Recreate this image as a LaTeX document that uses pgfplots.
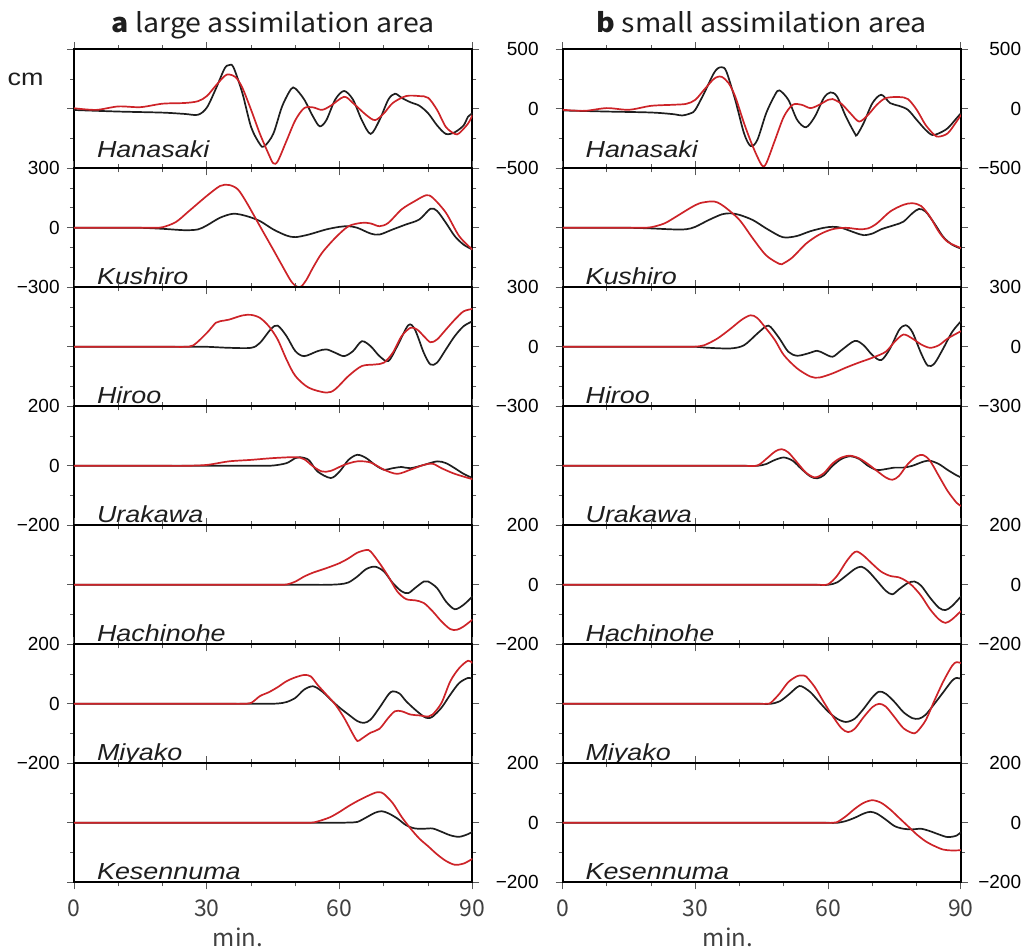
\documentclass[border=0pt]{standalone}
\usepackage{pgfplots}
\pgfplotsset{compat=1.18}
\usepackage{fontspec}
\setmainfont{Liberation Sans}
\newfontfamily\stnfont[FakeStretch=1.16]{Liberation Sans}
\newfontfamily\notosans{Noto Sans CJK JP}
\newfontfamily\titlefont[FakeStretch=1.08]{Noto Sans CJK JP}
\definecolor{blk}{RGB}{30,30,30}
\definecolor{rd}{RGB}{205,35,40}
\pgfplotsset{
 panel/.style={
   scale only axis, width=199.25pt, height=59.5pt, anchor=north west,
   xmin=0, xmax=90, xtick={0,30,60,90}, minor xtick={10,20,40,50,70,80},
   tick align=outside, major tick length=3.5pt, minor tick length=2pt,
   axis line style={line width=1pt, black},
   tick style={line width=0.5pt, black!65},
   xticklabels={},
   yticklabel style={font=\fontsize{9.5}{10}\selectfont, inner sep=0pt, anchor=east},
 },
 bl/.style={line width=0.85pt, color=blk, smooth},
 rdl/.style={line width=0.85pt, color=rd, smooth},
 r500/.style={ymin=-500,ymax=500, ytick={-500,0,500}, minor ytick={-250,250}, yticklabels={−500,0,500}},
 r300/.style={ymin=-300,ymax=300, ytick={-300,0,300}, minor ytick={-200,-100,100,200}, yticklabels={−300,0,300}},
 r200/.style={ymin=-200,ymax=200, ytick={-200,0,200}, minor ytick={-100,100}, yticklabels={−200,0,200}},
 labL/.style={yticklabel pos=left, yticklabel style={xshift=-3.5pt}},
 labRa/.style={yticklabel pos=right, yticklabel style={xshift=29.75pt}},
 labRb/.style={yticklabel pos=right, yticklabel style={xshift=26.75pt}},
 nolab/.style={yticklabels={}},
 bottom/.style={xticklabels={0,30,60,90}, xticklabel style={font=\notosans\fontsize{11.5}{12}\selectfont, text=black!75, inner sep=0pt, anchor=north, yshift=-5pt}},
}
\newcommand\panel[7]{%
\begin{axis}[panel, at={(#1,{-24.65pt-#2*59.5pt})}, #3]
\addplot[bl] coordinates {#4};
\addplot[rdl] coordinates {#5};
\node[anchor=base west, xshift=8pt, yshift=#7, font=\stnfont\itshape\fontsize{11.6}{12}\selectfont, text=blk] at (rel axis cs:0,0) {#6};
\end{axis}}
\begin{document}
\begin{tikzpicture}
\useasboundingbox (0,0) rectangle (516pt,-475pt);
% ---------------- left column ----------------
\panel{37pt}{0}{r500,labRa}
{(0,-10)(10,-23)(20,-32)(25,-43)(28,-50)(30,10)(32,165)(34,338)(35,367)(36,350)(38,136)(40,-153)(42,-298)(43,-315)(45,-211)(47,20)(49,165)(50,170)(52,78)(54,-66)(55.5,-147)(57,-95)(59,78)(61,150)(63,78)(65,-95)(67,-211)(69,-95)(71,78)(72.5,127)(74,92)(76,55)(78,26)(80,-38)(82,-139)(84,-211)(86,-197)(88,-139)(89,-66)(90,-38)}
{(0,5)(5,-9)(10,20)(15,14)(20,43)(25,49)(28,64)(30,107)(32,194)(34,275)(35,289)(36.5,266)(38,179)(40,-9)(42,-211)(44,-384)(45,-457)(46,-442)(48,-269)(50,-95)(52,6)(54,12)(56,-9)(58,26)(61,101)(63,49)(66,-52)(68,-95)(70,-38)(72,49)(75,107)(78,107)(80,92)(82,-9)(84,-153)(86,-211)(87,-205)(89,-124)(90,-52)}
{Hanasaki}{5.5pt}
\panel{37pt}{1}{r300,labL}
{(0,0)(5,0)(10,0)(15,0)(20,-5)(25,-12)(28,-8)(30,12)(33,51)(36,71)(39,59)(42,34)(45,-8)(48,-39)(50,-47)(53,-34)(57,-8)(60,5)(62,8)(64,0)(67,-29)(69,-34)(72,-8)(75,17)(78,42)(80.5,96)(82,85)(84,25)(86,-42)(88,-85)(90,-110)}
{(0,0)(5,0)(10,0)(15,0)(18,0)(20,3)(23,29)(26,85)(30,161)(33,211)(35,216)(37,194)(39,127)(42,8)(45,-110)(47,-190)(49,-268)(50.3,-296)(51.3,-296)(52.5,-262)(54,-200)(56,-127)(59,-51)(62,8)(65,25)(67,22)(69,8)(71,25)(74,93)(77,135)(79.5,164)(81,152)(84,76)(87,-42)(90,-110)}
{Kushiro}{1.5pt}
\panel{37pt}{2}{r300,labRa}
{(0,0)(10,0)(20,0)(25,0)(30,0)(35,-5)(40,-5)(42,20)(44.5,90)(46,107)(48,54)(50,-22)(52,-47)(55,-22)(57,-13)(59,-30)(61,-47)(63,-22)(65,28)(67,3)(69,-47)(71,-72)(73,3)(75.5,109)(77,87)(79,-30)(80.5,-89)(82,-80)(84,-13)(86,54)(88,104)(90,129)}
{(0,0)(10,0)(18,0)(22,0)(25,0)(27,8)(30,70)(32,121)(33,129)(35,137)(38,158)(40,161)(42,146)(44,104)(46,37)(48,-64)(50,-147)(53,-206)(57,-231)(59,-214)(62,-147)(65,-97)(68,-89)(70,-80)(72,-30)(74,54)(76,96)(77.5,87)(79,54)(80.5,23)(82,37)(84,87)(86,137)(88,179)(90,191)}
{Hiroo}{1.5pt}
\panel{37pt}{3}{r200,labL}
{(0,0)(10,0)(20,0)(30,0)(38,0)(42,0)(45,1)(48,9)(50,26)(51,29)(53,20)(55,-19)(58,-41)(60,-19)(62,20)(64,37)(66,26)(68,3)(70,-13)(72,-8)(74,-4)(76,-8)(79,3)(82,15)(84,9)(86,-8)(88,-27)(90,-41)}
{(0,0)(10,0)(20,0)(25,0)(30,3)(35,15)(40,20)(45,26)(50,29)(52,22)(54,-2)(56,-19)(58,-17)(61,3)(64,15)(67,11)(70,-13)(73,-27)(76,-13)(79,3)(81,7)(83,-8)(86,-27)(90,-45)}
{Urakawa}{1.5pt}
\panel{37pt}{4}{r200,labRa}
{(0,0)(10,0)(20,0)(30,0)(40,0)(48,0)(53,0)(57,0)(60,2)(62,8)(64,28)(66,53)(68,61)(70,45)(72,6)(74,-22)(75.5,-28)(77,-11)(79,11)(80,11)(82,-11)(84,-56)(86,-82)(88,-67)(90,-39)}
{(0,0)(10,0)(20,0)(30,0)(38,0)(43,0)(46,0)(48,1)(50,11)(52,28)(54,41)(57,56)(60,73)(62,89)(64,108)(66,117)(67,112)(69,73)(71,28)(73,-22)(75,-48)(77,-52)(79,-61)(81,-89)(83,-123)(85,-149)(86.5,-151)(88,-140)(90,-117)}
{Hachinohe}{1.5pt}
\panel{37pt}{5}{r200,labL}
{(0,0)(10,0)(20,0)(30,0)(36,0)(40,0)(43,0)(46,1)(48,6)(50,20)(52,48)(54,59)(56,42)(58,14)(60,-13)(62,-36)(64,-58)(65.5,-64)(67,-53)(69,-13)(71,31)(72,42)(73.5,35)(75,9)(77,-19)(79,-43)(80,-48)(81,-43)(83,-13)(85,31)(87,70)(89,87)(90,84)}
{(0,0)(10,0)(20,0)(28,0)(33,0)(36,0)(38,0)(40,3)(42,26)(44,39)(46,56)(48,76)(50,89)(52,97)(53.5,92)(55,64)(57,31)(59,-2)(61,-47)(63,-102)(64,-125)(65,-117)(67,-97)(69,-84)(71,-47)(72.5,-25)(74,-25)(76,-36)(78,-39)(80,-43)(81,-36)(83,3)(85,76)(87,120)(89,145)(90,137)}
{Miyako}{1.5pt}
\panel{37pt}{6}{r200,labRa,bottom}
{(0,0)(10,0)(20,0)(30,0)(40,0)(50,0)(55,0)(58,0)(60,0)(62,1)(64,3)(66,18)(68,34)(69.5,39)(71,32)(73,15)(75,-8)(77,-19)(79,-20)(81,-19)(83,-30)(85,-42)(87,-47)(89,-38)(90,-30)}
{(0,0)(10,0)(20,0)(30,0)(40,0)(46,0)(50,0)(52,0)(54,1)(56,9)(58,20)(60,37)(62,56)(64,73)(66,88)(68,101)(69,103)(70,97)(72,66)(74,20)(76,-19)(78,-53)(80,-79)(82,-106)(84,-128)(86,-141)(88,-137)(90,-121)}
{Kesennuma}{1.5pt}
% ---------------- right column ----------------
\panel{281.25pt}{0}{r500,labRb}
{(0,-14)(10,-23)(20,-31)(25,-45)(27,-56)(29,-37)(30,-8)(32,132)(34,287)(35,338)(36,349)(37,315)(39,76)(41,-206)(42.5,-313)(44,-262)(46,-37)(48,118)(49,155)(51,76)(53,-93)(55,-155)(57,-65)(59,90)(60.5,138)(62,104)(64,-65)(66,-206)(66.5,-220)(68,-121)(70,48)(72,118)(74,48)(76,25)(78,-8)(80,-93)(82,-177)(83.5,-220)(85,-206)(87,-163)(89,-79)(90,-37)}
{(0,-8)(5,-17)(10,6)(15,-8)(20,25)(25,34)(28,42)(30,76)(32,161)(34,245)(35,268)(36,268)(37.5,217)(39,104)(41,-121)(43,-318)(45,-473)(46,-459)(48,-262)(50,-65)(52,34)(54,34)(56,6)(58,34)(60,76)(61,82)(63,42)(65,-37)(67,-107)(69,-51)(71,34)(73,90)(76,99)(78,82)(80,-8)(82,-135)(84,-220)(85,-234)(87,-206)(89,-107)(90,-51)}
{Hanasaki}{5.5pt}
\panel{281.25pt}{1}{r300,nolab}
{(0,0)(5,0)(10,0)(15,0)(20,-3)(25,-8)(28,-7)(30,5)(33,39)(36,68)(38,73)(40,65)(43,39)(46,-3)(49,-41)(50.5,-49)(53,-41)(56,-17)(59,0)(61,5)(63,0)(66,-24)(68,-37)(70,-29)(72,-7)(75,14)(77,31)(79,73)(80.5,95)(82,82)(84,22)(86,-46)(88,-85)(90,-105)}
{(0,0)(5,0)(10,0)(15,0)(18,0)(20,3)(23,22)(26,61)(29,102)(31,124)(33.5,133)(35,128)(37,99)(40,39)(43,-54)(46,-139)(49,-182)(50,-178)(52,-148)(55,-80)(58,-34)(61,-7)(64,0)(67,-7)(69,-3)(71,22)(74,82)(77,116)(79,124)(81,110)(83,56)(85,-20)(87,-71)(90,-102)}
{Kushiro}{1.5pt}
\panel{281.25pt}{2}{r300,labRb}
{(0,0)(10,0)(20,0)(26,0)(30,0)(33,-5)(38,-8)(41,8)(44,67)(46,104)(47,100)(49,42)(51,-25)(53,-45)(55.5,-33)(57.5,-20)(59,-33)(61,-50)(63,-17)(66,30)(68,8)(70,-42)(72,-67)(74,-8)(76,84)(77.5,109)(79,75)(81,-33)(82.5,-95)(84,-84)(86,-8)(88,75)(90,129)}
{(0,0)(10,0)(20,0)(25,0)(28,0)(30,1)(32,8)(35,42)(38,92)(40.5,137)(42.5,159)(44,145)(46,92)(48,33)(50,-42)(53,-109)(56,-150)(58,-155)(61,-134)(64,-105)(67,-79)(70,-55)(73,-25)(75,25)(77,62)(79,42)(81,12)(83,-5)(85,8)(87,42)(89,67)(90,79)}
{Hiroo}{1.5pt}
\panel{281.25pt}{3}{r200,nolab}
{(0,0)(10,0)(20,0)(30,0)(37,0)(41,0)(44,0)(46,6)(48,20)(50,28)(52,17)(54,-11)(56,-36)(57.5,-42)(59,-32)(61,0)(63,23)(65,32)(67,23)(69,0)(71,-14)(73,-11)(75,-6)(77,-6)(79,0)(81.5,14)(83,17)(85,6)(87,-14)(89,-32)(90,-39)}
{(0,0)(10,0)(20,0)(30,0)(37,0)(41,0)(44,1)(46,23)(48,48)(49.5,56)(51,45)(53,11)(55,-23)(57,-39)(59,-25)(61,8)(63,28)(65,34)(67,25)(69,6)(71,-17)(73,-39)(74.5,-47)(76,-34)(78,6)(80,32)(81.5,36)(83,17)(85,-34)(87,-85)(89,-124)(90,-135)}
{Urakawa}{1.5pt}
\panel{281.25pt}{4}{r200,labRb}
{(0,0)(10,0)(20,0)(30,0)(40,0)(48,0)(53,0)(57,0)(60,0)(62,8)(64,30)(66,53)(67.5,61)(69,47)(71,14)(73,-20)(74.5,-32)(76,-15)(78,6)(79.5,11)(81,-3)(83,-43)(85,-77)(86.5,-85)(88,-71)(90,-39)}
{(0,0)(10,0)(20,0)(30,0)(40,0)(47,0)(52,0)(56,0)(58,0)(60,2)(62,30)(64,76)(65.5,104)(66.5,112)(68,98)(70,70)(72,44)(74,30)(76,25)(77.5,14)(79,-3)(81,-37)(83,-82)(85,-116)(86.5,-128)(88,-116)(90,-88)}
{Hachinohe}{1.5pt}
\panel{281.25pt}{5}{r200,nolab}
{(0,0)(10,0)(20,0)(30,0)(38,0)(42,0)(45,0)(47,0)(49,8)(51,30)(53,56)(54,59)(56,39)(58,6)(60,-26)(62,-50)(64,-61)(66,-50)(68,-17)(70,22)(71.5,41)(73,34)(75,6)(77,-28)(79,-48)(80.5,-50)(82,-37)(84,0)(86,39)(88,78)(89,87)(90,84)}
{(0,0)(10,0)(20,0)(30,0)(37,0)(41,0)(44,0)(46,0)(47,3)(49,34)(51,73)(53,93)(54,95)(55,92)(57,56)(59,6)(61,-41)(63,-82)(64.5,-95)(66,-84)(68,-45)(70,-11)(71.5,0)(73,-9)(75,-45)(77,-82)(79,-98)(80,-95)(82,-56)(84,11)(86,75)(88,128)(89,140)(90,137)}
{Miyako}{1.5pt}
\panel{281.25pt}{6}{r200,labRb,bottom}
{(0,0)(10,0)(20,0)(30,0)(40,0)(50,0)(56,0)(60,0)(62,0)(64,6)(66,17)(68,31)(69.5,37)(71,31)(73,11)(75,-11)(77,-20)(79,-22)(81,-20)(83,-28)(85,-39)(87,-48)(89,-43)(90,-31)}
{(0,0)(10,0)(20,0)(30,0)(40,0)(50,0)(55,0)(58,0)(61,0)(62,2)(64,22)(66,47)(68,67)(70,76)(72,67)(74,45)(76,17)(78,-11)(80,-39)(82,-62)(84,-78)(86,-90)(88,-93)(90,-92)}
{Kesennuma}{1.5pt}
% ---------------- texts ----------------
\node[anchor=base, font=\titlefont\fontsize{13.2}{14}\selectfont, text=blk] at (136.5pt,-16pt) {\textbf{a} large assimilation area};
\node[anchor=base, font=\titlefont\fontsize{13.2}{14}\selectfont, text=blk] at (380.75pt,-16pt) {\textbf{b} small assimilation area};
\node[anchor=center, font=\stnfont\fontsize{11.6}{12}\selectfont, text=blk] at (12.75pt,-39.5pt) {cm};
\node[anchor=center, font=\notosans\fontsize{12}{13}\selectfont, text=black!75] at (119pt,-468.5pt) {min.};
\node[anchor=center, font=\notosans\fontsize{12}{13}\selectfont, text=black!75] at (364pt,-468.5pt) {min.};
\end{tikzpicture}
\end{document}
